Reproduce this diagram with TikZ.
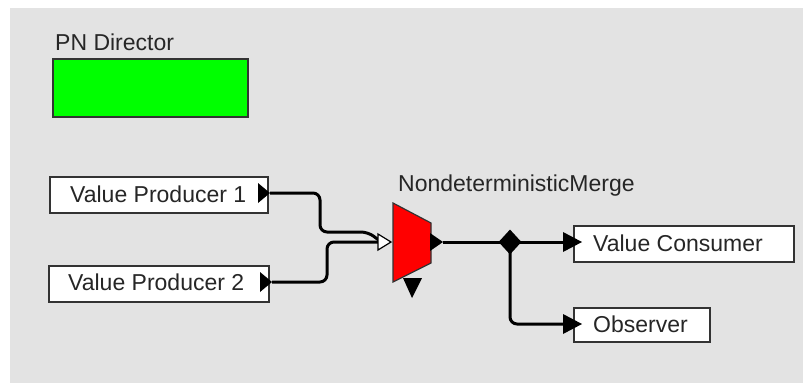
\documentclass[tikz,border=0pt]{standalone}
\usepackage{fontspec}
\setmainfont{Liberation Sans}
\usetikzlibrary{shapes.geometric}
\begin{document}
\begin{tikzpicture}[x=1pt,y=-1pt,
  lbl/.style={font=\fontsize{23}{27}\selectfont, text=black!85, inner sep=0pt},
  actor/.style={draw=black!80, line width=1.6pt, fill=white, minimum height=36pt, inner sep=0pt, anchor=north west},
  wire/.style={line width=3pt, black, rounded corners=7pt},
  outport/.style={fill=black, draw=none},
  inport/.style={fill=black, draw=none}
]
\useasboundingbox (0,0) rectangle (803,383);
\fill[white] (0,0) rectangle (803,383);
\fill[black!11] (10,8) rectangle (803,383);

% director
\node[lbl, anchor=base west] (dirlbl) at (55,50) {PN Director};
\node[draw=black!80, line width=1.6pt, fill=green, minimum width=195pt, minimum height=58pt, anchor=north west, inner sep=0pt] (dir) at (52,58) {};

% producers
\node[actor, minimum width=218pt] (p1) at (49,176) {};
\node[lbl, anchor=west] (p1t) at (70,194) {Value Producer 1};
\node[actor, minimum width=220pt] (p2) at (48,265) {};
\node[lbl, anchor=west] (p2t) at (68,282) {Value Producer 2};

% output ports of producers
\coordinate (p1o) at (270,193);
\coordinate (p2o) at (272,282);
\fill[outport] (258,183) -- (p1o) -- (258,203) -- cycle;
\fill[outport] (260,272) -- (p2o) -- (260,292) -- cycle;

% merge actor
\node[lbl, anchor=base west] (mlbl) at (398,191) {NondeterministicMerge};
\draw[fill=red, draw=black!80, line width=1.2pt] (393,203) -- (431,223) -- (431,263) -- (393,282) -- cycle;
\coordinate (min) at (391,242);
\coordinate (mout) at (443,242);
\fill[black] (430,233) -- (mout) -- (430,251) -- cycle;
\fill[black] (403,278) -- (422,278) -- (412,298) -- cycle;

% wires into merge
\draw[wire] (p1o) -- (320,193) -- (320,232) -- (368,232) -- (380,241);
\draw[wire] (p2o) -- (327,282) -- (327,242) -- (380,242);
\draw[fill=white, draw=black, line width=1.2pt] (378,234) -- (min) -- (378,250) -- cycle;

% relation diamond
\node[diamond, fill=black, draw=none, inner sep=0pt, minimum width=23pt, minimum height=25pt] (rel) at (510,242) {};

% consumers
\node[actor, minimum width=220pt] (vc) at (573,225) {};
\node[lbl, anchor=west] (vct) at (593,243) {Value Consumer};
\node[actor, minimum width=136pt, minimum height=34pt] (ob) at (573,307) {};
\node[lbl, anchor=west] (obt) at (593,324) {Observer};

\coordinate (vci) at (582,242);
\coordinate (obi) at (582,324);

\draw[wire] (mout) -- (rel.center);
\draw[wire] (rel.center) -- (566,242);
\draw[wire] (rel.center) -- (510,324) -- (566,324);
\fill[black] (563,232) -- (vci) -- (563,252) -- cycle;
\fill[black] (563,314) -- (obi) -- (563,334) -- cycle;
\end{tikzpicture}
\end{document}
